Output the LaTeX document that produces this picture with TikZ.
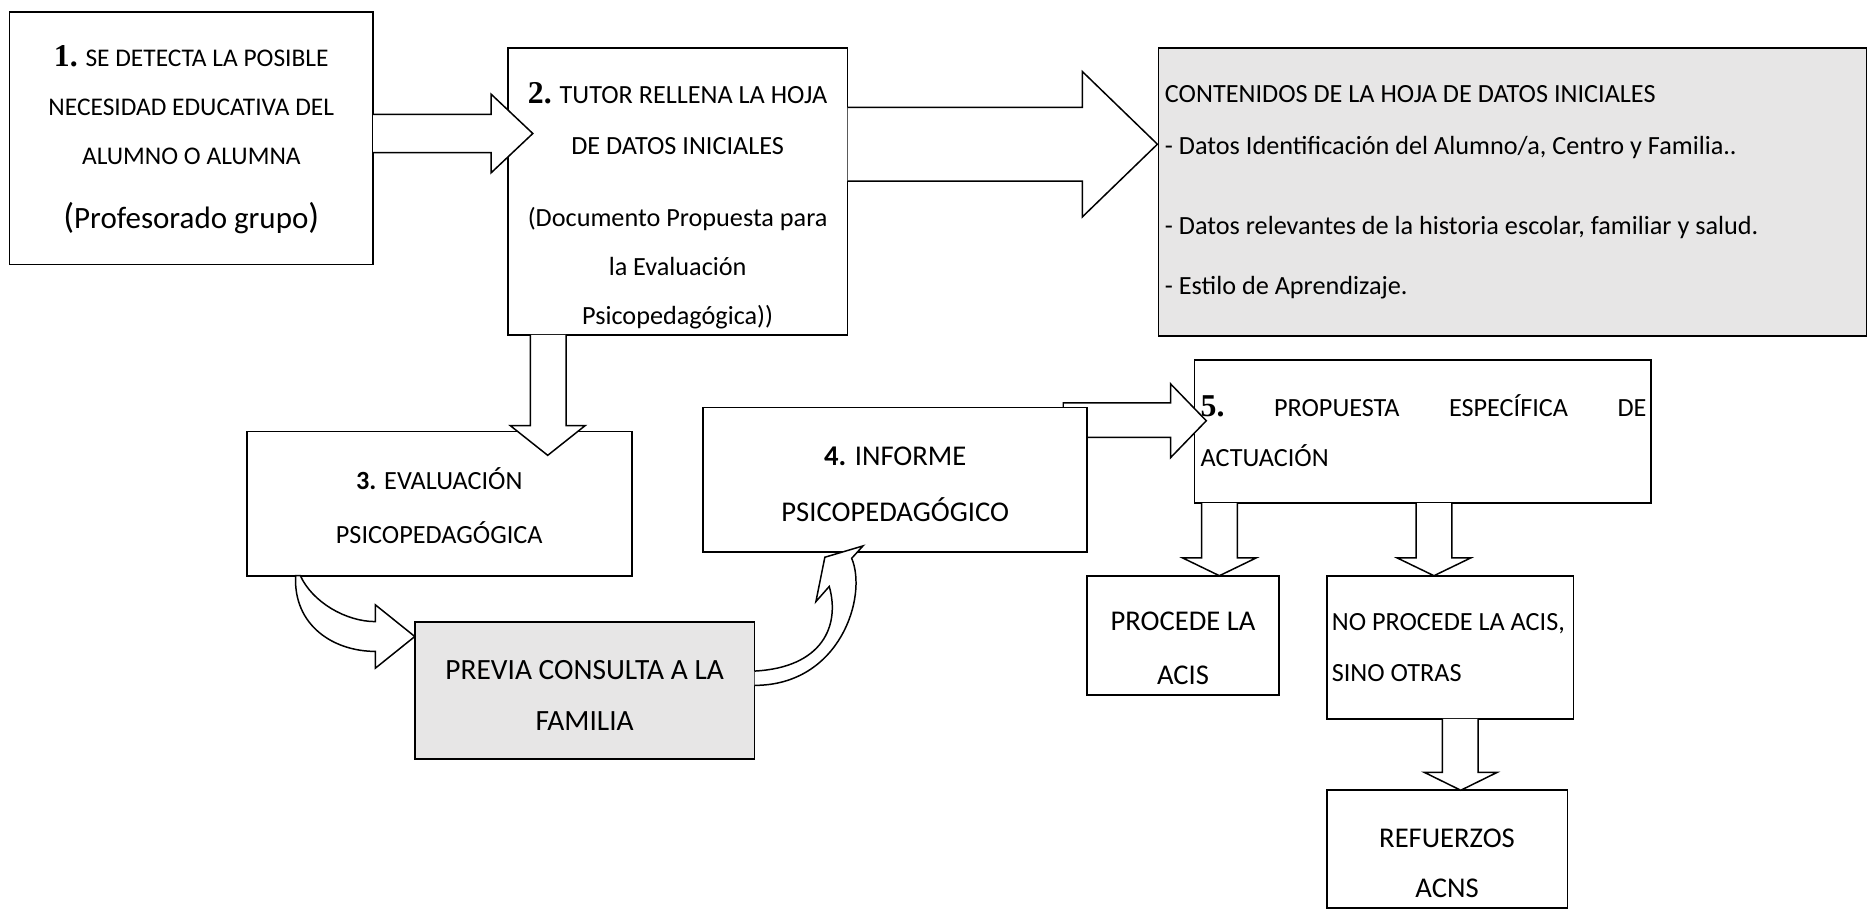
\documentclass[tikz,border=0pt]{standalone}
\usepackage{fontspec}
\setmainfont{Carlito}
\newfontfamily\numfont{Liberation Serif}
\usetikzlibrary{fit}
\definecolor{gfill}{RGB}{231,230,230}
\newcommand\bignum[1]{{\numfont\bfseries\fontsize{16}{16}\selectfont #1}}
\begin{document}
\begin{tikzpicture}[x=0.6pt,y=-0.6pt,
 box/.style={draw=black,line width=0.85pt,fill=white,inner sep=0pt,outer sep=0pt},
 gbox/.style={box,fill=gfill},
 ta/.style={inner sep=0pt,anchor=base,font=\fontsize{12.8}{14}\selectfont},
 tb/.style={inner sep=0pt,anchor=base,font=\fontsize{13.2}{15}\selectfont},
 tc/.style={inner sep=0pt,anchor=base,font=\fontsize{14.4}{17}\selectfont},
 lft/.style={anchor=base west},
 barrow/.style={draw=black,line width=0.75pt,fill=white,line join=miter}]
\useasboundingbox (0,0) rectangle (1568,763);

% top row
\node[box,fit={(8,10) (313,222)}] (b1) {};
\node[box,fit={(426,40) (711,281)}] (b2) {};
\node[gbox,fit={(972,40) (1566,282)}] (bc) {};
\draw[barrow] (313,96) -- (412,96) -- (412,79) -- (447,112) -- (412,145) -- (412,128) -- (313,128);
\draw[barrow] (711,90) -- (908,90) -- (908,60) -- (971,121) -- (908,182) -- (908,152) -- (711,152);

% box 3
\node[box,fit={(207,362) (530,483)}] (b3) {};
\draw[barrow] (445,281) -- (445,357) -- (428,357) -- (459.5,382) -- (491,357) -- (475,357) -- (475,281);

% box 5, arrow 4->5, box 4
\node[box,fit={(1002,302) (1385,422)}] (b5) {};
\draw[barrow] (892,338) -- (982,338) -- (982,322) -- (1012,353) -- (982,384) -- (982,367) -- (892,367) -- cycle;
\node[box,fit={(590,342) (912,463)}] (b4) {};

% lower right
\node[box,fit={(912,483) (1073,583)}] (bpro) {};
\node[box,fit={(1113,483) (1320,603)}] (bno) {};
\node[box,fit={(1113,663) (1315,762)}] (bref) {};
\draw[barrow] (1008,422) -- (1008,468) -- (992,468) -- (1023,483) -- (1054,468) -- (1038,468) -- (1038,422);
\draw[barrow] (1188,422) -- (1188,468) -- (1172,468) -- (1203,483) -- (1234,468) -- (1218,468) -- (1218,422);
\draw[barrow] (1210,603) -- (1210,648) -- (1195,648) -- (1225.5,663) -- (1256,648) -- (1240,648) -- (1240,603);

% previa
\node[gbox,fit={(348,522) (633,637)}] (bp) {};
\draw[barrow] (248,483) .. controls (246,525) and (280,546.5) .. (315,546.5) -- (315,560.5) -- (348,534) -- (315,507.5) -- (315,521.5) .. controls (290,521.5) and (262,505) .. (252,483) -- cycle;
\draw[barrow] (633,563) .. controls (690,560) and (705,525) .. (695.7,492) -- (684.5,504.7) -- (692,467.5) -- (724,458) -- (714.5,468.4) .. controls (728,500) and (705,575) .. (633,575);

% texts
\node[ta] (t1a) at (160.5,56) {\bignum{1.} SE DETECTA LA POSIBLE};
\node[ta] (t1b) at (160.5,97) {NECESIDAD EDUCATIVA DEL};
\node[ta] (t1c) at (160.5,138) {ALUMNO O ALUMNA};
\node[tc,font=\fontsize{15.6}{18}\selectfont] (t1d) at (160.5,192) {{\fontsize{18}{18}\selectfont(}Profesorado grupo{\fontsize{18}{18}\selectfont)}};

\node[tb] (t2a) at (568.5,87) {\bignum{2.} TUTOR RELLENA LA HOJA};
\node[tb] (t2b) at (568.5,130) {DE DATOS INICIALES};
\node[tb] (t2c) at (568.5,190) {(Documento Propuesta para};
\node[tb] (t2d) at (568.5,231) {la Evaluación};
\node[tb] (t2e) at (568.5,272) {Psicopedagógica))};

\node[tb,lft] (tc1) at (977,86) {CONTENIDOS DE LA HOJA DE DATOS INICIALES};
\node[tb,lft] (tc2) at (977,130) {- Datos Identificación del Alumno/a, Centro y Familia..};
\node[tb,lft] (tc3) at (977,197) {- Datos relevantes de la historia escolar, familiar y salud.};
\node[tb,lft] (tc4) at (977,247) {- Estilo de Aprendizaje.};

\node[tb] (t3a) at (368.5,411) {\textbf{3.} EVALUACIÓN};
\node[tb] (t3b) at (368.5,456) {PSICOPEDAGÓGICA};

\node[tc] (t4a) at (751,390.7) {\textbf{4.} INFORME};
\node[tc] (t4b) at (751,437.7) {PSICOPEDAGÓGICO};

\node[tb,lft] (t5a) at (1007,349.5) {\hbox to 224.4pt{\bignum{5.}\hfill PROPUESTA\hfill ESPECÍFICA\hfill DE}};
\node[tb,lft] (t5b) at (1007,391) {ACTUACIÓN};

\node[tc] (tpa) at (992.5,529) {PROCEDE LA};
\node[tc] (tpb) at (992.5,574) {ACIS};

\node[tb,lft] (tna) at (1117,529) {NO PROCEDE LA ACIS,};
\node[tb,lft] (tnb) at (1117,572) {SINO OTRAS};

\node[tc] (tra) at (1214,711) {REFUERZOS};
\node[tc] (trb) at (1214,753) {ACNS};

\node[tc,font=\fontsize{14.8}{17}\selectfont] (tva) at (490.5,570) {PREVIA CONSULTA A LA};
\node[tc,font=\fontsize{14.8}{17}\selectfont] (tvb) at (490.5,613) {FAMILIA};
\end{tikzpicture}
\end{document}
